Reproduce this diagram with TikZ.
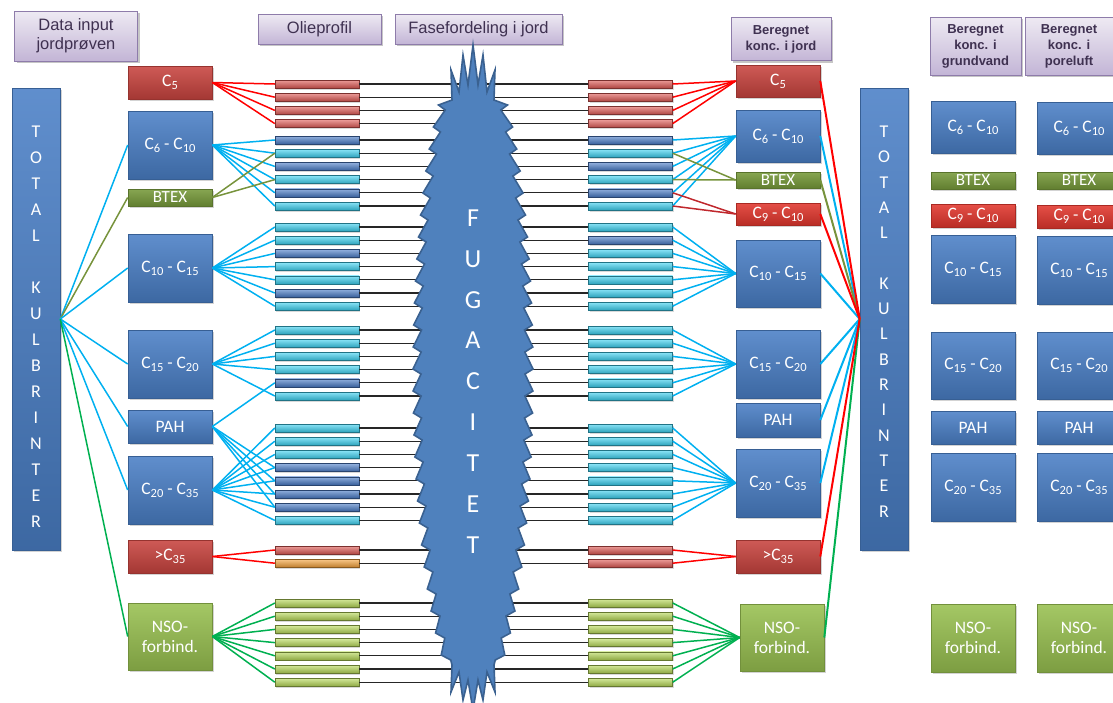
\documentclass[tikz,border=0pt]{standalone}
\usepackage{fontspec}
\newfontfamily\calf{Carlito}
\newfontfamily\arialf{Liberation Sans}
\usetikzlibrary{shadows}

\definecolor{hdrtop}{HTML}{EEEAF3}
\definecolor{hdrbot}{HTML}{C3B5D6}
\definecolor{hdredge}{HTML}{8E7CAA}
\definecolor{hdrtext}{HTML}{3F3151}
\definecolor{bxblue}{HTML}{4A7FC6}
\definecolor{bxred}{HTML}{C8443F}
\definecolor{bxbright}{HTML}{E2372E}
\definecolor{bxolive}{HTML}{779A3A}
\definecolor{bxlime}{HTML}{98C050}
\definecolor{brred}{HTML}{E05A55}
\definecolor{brblue}{HTML}{4A7CC8}
\definecolor{brcyan}{HTML}{3CD2F2}
\definecolor{brlime}{HTML}{B8DA58}
\definecolor{brorange}{HTML}{F5A23A}
\definecolor{fugfill}{HTML}{4F81BD}
\definecolor{fugedge}{HTML}{3A6190}
\definecolor{lnblue}{HTML}{00B0F0}
\definecolor{lnred}{HTML}{FF0000}
\definecolor{lnolive}{HTML}{77933C}
\definecolor{lngreen}{HTML}{00B050}
\definecolor{lndred}{HTML}{C0282D}

% lowered index figures for carbon numbers
\newcommand\csub[1]{\raisebox{-3.2pt}{\fontsize{12.5}{12.5}\selectfont #1}}

\tikzset{
  hdr/.style={rectangle, inner sep=2pt, align=center, text=hdrtext,
    draw=hdredge, line width=0.8pt, top color=hdrtop, bottom color=hdrbot,
    drop shadow={opacity=0.45, shadow xshift=2pt, shadow yshift=-2pt}},
  hdrplain/.style={hdr, font=\arialf\fontsize{16.5}{19}\selectfont},
  hdrbold/.style={hdr, font=\arialf\bfseries\fontsize{13}{16}\selectfont},
  cbox/.style={rectangle, inner sep=0pt, minimum width=84pt, align=center,
    text=white, font=\calf\fontsize{17.5}{20}\selectfont,
    draw=#1!75!black, line width=0.6pt, top color=#1!88!white,
    bottom color=#1!82!black,
    drop shadow={opacity=0.35, shadow xshift=1.5pt, shadow yshift=-1.5pt}},
  oilbar/.style={rectangle, inner sep=0pt, minimum width=84pt,
    minimum height=8pt, draw=#1!55!black, line width=0.4pt,
    top color=#1!60!white, middle color=#1, bottom color=#1!78!black,
    drop shadow={opacity=0.3, shadow xshift=1pt, shadow yshift=-1.5pt}},
  link/.style={line width=1.5pt, draw=#1},
  hublink/.style={line width=2pt, draw=#1},
  blk/.style={line width=1.3pt, draw=black!85},
  lettr/.style={align=center, text=white, inner sep=0pt},
  btexfont/.style={font=\calf\fontsize{17}{18}\selectfont},
}

% a stack of oil-fraction bars: name prefix, first centre y, centre x, colours
\newcommand\oilgroup[4]{%
  \foreach \c [count=\k] in {#4} {%
    \node[oilbar=\c] (#1-\k) at (#3, {#2+13.2*(\k-1)}) {};}}

\begin{document}
\begin{tikzpicture}[x=1pt, y=-1pt,
  declare function={fw(\t)=60*sqrt(max(0,1-((\t-375)/330)^2));}]
\useasboundingbox (0,0) rectangle (1113,702);
\clip (0,0) rectangle (1113,702);

% headers
\node[hdrplain, minimum width=123pt, minimum height=50pt] (hData) at (76,36) {Data input\\jordprøven};
\node[hdrplain, minimum width=123pt, minimum height=30pt] (hOlie) at (319.5,29) {Olieprofil};
\node[hdrplain, minimum width=167pt, minimum height=30pt] (hFase) at (478.5,29) {Fasefordeling i jord};
\node[hdrbold, minimum width=100pt, minimum height=43pt] (hJord) at (781,39) {Beregnet\\konc. i jord};
\node[hdrbold, minimum width=91pt, minimum height=58pt] (hGrund) at (975.5,46) {Beregnet\\konc. i\\grundvand};
\node[hdrbold, minimum width=88pt, minimum height=58pt] (hPore) at (1069,46) {Beregnet\\konc. i\\poreluft};

% total hydrocarbon columns
\node[cbox=bxblue, minimum width=48pt, minimum height=462pt] (LT) at (36,319) {};
\node[cbox=bxblue, minimum width=48pt, minimum height=462pt] (RT) at (884,319) {};
\node[lettr, font=\calf\fontsize{18}{26}\selectfont] (ltxt) at (36,326.5)
  {T\\O\\T\\A\\L\\\mbox{}\\K\\U\\L\\B\\R\\I\\N\\T\\E\\R};
\node[lettr, font=\calf\fontsize{18}{25.3}\selectfont] (rtxt) at (884,321.5)
  {T\\O\\T\\A\\L\\\mbox{}\\K\\U\\L\\B\\R\\I\\N\\T\\E\\R};

% input fractions
\node[cbox=bxred,   minimum height=33pt] (L5)    at (170,82.5) {C\csub{5}};
\node[cbox=bxblue,  minimum height=68pt] (L610)  at (170,145)  {C\csub{6} - C\csub{10}};
\node[cbox=bxolive, minimum height=17pt, btexfont] (LBTEX) at (170,197.5) {BTEX};
\node[cbox=bxblue,  minimum height=68pt] (L1015) at (170,268)  {C\csub{10} - C\csub{15}};
\node[cbox=bxblue,  minimum height=68pt] (L1520) at (170,364)  {C\csub{15} - C\csub{20}};
\node[cbox=bxblue,  minimum height=33pt] (LPAH)  at (170,426.5) {PAH};
\node[cbox=bxblue,  minimum height=68pt] (L2035) at (170,490)  {C\csub{20} - C\csub{35}};
\node[cbox=bxred,   minimum height=33pt] (L35)   at (170,556.5) {>C\csub{35}};
\node[cbox=bxlime,  minimum height=67pt] (LNSO)  at (170,636.5) {NSO-\\forbind.};

% soil concentrations
\node[cbox=bxred,    minimum height=32pt] (R5)    at (778,81)  {C\csub{5}};
\node[cbox=bxblue,   minimum height=52pt] (R610)  at (778,136) {C\csub{6} - C\csub{10}};
\node[cbox=bxolive,  minimum height=16pt, btexfont] (RBTEX) at (778,180) {BTEX};
\node[cbox=bxbright, minimum height=22pt] (R910)  at (778,214) {C\csub{9} - C\csub{10}};
\node[cbox=bxblue,   minimum height=67pt] (R1015) at (778,273.5) {C\csub{10} - C\csub{15}};
\node[cbox=bxblue,   minimum height=68pt] (R1520) at (778,364) {C\csub{15} - C\csub{20}};
\node[cbox=bxblue,   minimum height=34pt] (RPAH)  at (778,420) {PAH};
\node[cbox=bxblue,   minimum height=68pt] (R2035) at (778,483) {C\csub{20} - C\csub{35}};
\node[cbox=bxred,    minimum height=33pt] (R35)   at (778,556.5) {>C\csub{35}};
\node[cbox=bxlime,   minimum height=67pt] (RNSO)  at (782,637.5) {NSO-\\forbind.};

% groundwater and pore air columns
\foreach \p/\xc/\dy in {g/973/0, p/1079/1} {
  \node[cbox=bxblue,   minimum height=52pt] (\p610)  at (\xc,127+\dy) {C\csub{6} - C\csub{10}};
  \node[cbox=bxolive,  minimum height=17pt, btexfont] (\p BTEX) at (\xc,180.5) {BTEX};
  \node[cbox=bxbright, minimum height=23pt] (\p910)  at (\xc,215.5+\dy) {C\csub{9} - C\csub{10}};
  \node[cbox=bxblue,   minimum height=68pt] (\p1015) at (\xc,269+\dy) {C\csub{10} - C\csub{15}};
  \node[cbox=bxblue,   minimum height=67pt] (\p1520) at (\xc,365.5) {C\csub{15} - C\csub{20}};
  \node[cbox=bxblue,   minimum height=33pt] (\p PAH)  at (\xc,428) {PAH};
  \node[cbox=bxblue,   minimum height=68pt] (\p2035) at (\xc,487) {C\csub{20} - C\csub{35}};
  \node[cbox=bxlime,   minimum height=68pt] (\p NSO)  at (\xc,638) {NSO-\\forbind.};
}

% oil profile bars
\oilgroup{la}{84}{317}{brred,brred,brred,brred}
\oilgroup{lb}{140}{317}{brblue,brcyan,brblue,brcyan,brblue,brcyan}
\oilgroup{lc}{227}{317}{brcyan,brcyan,brblue,brcyan,brcyan,brblue,brcyan}
\oilgroup{ld}{330}{317}{brcyan,brcyan,brcyan,brcyan,brblue,brcyan}
\oilgroup{le}{428}{317}{brcyan,brcyan,brcyan,brblue,brblue,brblue,brblue,brcyan}
\oilgroup{lf}{550}{317}{brred,brorange}
\oilgroup{lg}{603}{317}{brlime,brlime,brlime,brlime,brlime,brlime,brlime}
% phase distribution bars
\oilgroup{ra}{84}{630.5}{brred,brred,brred,brred}
\oilgroup{rb}{140}{630.5}{brblue,brcyan,brblue,brcyan,brblue,brcyan}
\oilgroup{rc}{227}{630.5}{brcyan,brblue,brcyan,brcyan,brcyan,brcyan,brcyan}
\oilgroup{rd}{330}{630.5}{brcyan,brcyan,brcyan,brcyan,brcyan,brcyan}
\oilgroup{re}{428}{630.5}{brcyan,brcyan,brcyan,brcyan,brcyan,brcyan,brcyan,brcyan}
\oilgroup{rf}{550}{630.5}{brred,brred}
\oilgroup{rg}{603}{630.5}{brlime,brlime,brlime,brlime,brlime,brlime,brlime}

% black lines through the fugacity model
\foreach \g/\n in {a/4,b/6,c/7,d/6,e/8,f/2,g/7}
  \foreach \k in {1,...,\n}
    \draw[blk] (l\g-\k.east) -- (r\g-\k.west);

% fugacity shape: spiked ends, saw-toothed flanks
\filldraw[fill=fugfill, draw=fugedge, line width=1.6pt, line join=miter]
  (473,45) -- (468,85) -- (463,55) -- (459,92) -- (451,70) -- (452,100)
  \foreach \k in {0,...,25} {
    -- ({473-fw(105+22*\k)}, {105+22*\k})
    -- ({473-fw(110+22*\k)+8}, {110+22*\k}) }
  -- (452,665) -- (451,692) -- (459,672) -- (463,700) -- (468,680) -- (473,710)
  -- (478,680) -- (483,700) -- (487,672) -- (495,692) -- (494,665)
  \foreach \k in {25,...,0} {
    -- ({473+fw(110+22*\k)-8}, {110+22*\k})
    -- ({473+fw(105+22*\k)}, {105+22*\k}) }
  -- (494,100) -- (495,70) -- (487,92) -- (483,55) -- (478,85) -- cycle;
\node[lettr, font=\calf\fontsize{26}{40.9}\selectfont] (fugtxt) at (473,381.5)
  {F\\U\\G\\A\\C\\I\\T\\E\\T};

% total hydrocarbons to input fractions
\draw[link=lnblue]  (LT.east) -- (L610.west);
\draw[link=lnolive] (LT.east) -- (LBTEX.west);
\draw[link=lnblue]  (LT.east) -- (L1015.west);
\draw[link=lnblue]  (LT.east) -- (L1520.west);
\draw[link=lnblue]  (LT.east) -- (LPAH.west);
\draw[link=lnblue]  (LT.east) -- (L2035.west);
\draw[link=lngreen] (LT.east) -- (LNSO.west);

% input fractions to oil profile
\foreach \k in {1,...,4} \draw[link=lnred] (L5.east) -- (la-\k.west);
\foreach \k in {1,...,6} \draw[link=lnblue] (L610.east) -- (lb-\k.west);
\foreach \k in {2,4} \draw[link=lnolive] (LBTEX.east) -- (lb-\k.west);
\foreach \k in {1,...,7} \draw[link=lnblue] (L1015.east) -- (lc-\k.west);
\foreach \k in {1,2,3,4,6} \draw[link=lnblue] (L1520.east) -- (ld-\k.west);
\draw[link=lnblue] (LPAH.east) -- (ld-5.west);
\foreach \k in {4,...,7} \draw[link=lnblue] (LPAH.east) -- (le-\k.west);
\foreach \k in {1,...,8} \draw[link=lnblue] (L2035.east) -- (le-\k.west);
\foreach \k in {1,2} \draw[link=lnred] (L35.east) -- (lf-\k.west);
\foreach \k in {1,...,7} \draw[link=lngreen] (LNSO.east) -- (lg-\k.west);

% phase distribution to soil concentrations
\foreach \k in {1,...,4} \draw[link=lnred] (ra-\k.east) -- (R5.west);
\foreach \k in {1,...,6} \draw[link=lnblue] (rb-\k.east) -- (R610.west);
\foreach \k in {2,4} \draw[link=lnolive] (rb-\k.east) -- (RBTEX.west);
\foreach \k in {5,6} \draw[link=lndred] (rb-\k.east) -- (R910.west);
\foreach \k in {1,...,7} \draw[link=lnblue] (rc-\k.east) -- (R1015.west);
\foreach \k in {1,...,6} \draw[link=lnblue] (rd-\k.east) -- (R1520.west);
\foreach \k in {1,...,8} \draw[link=lnblue] (re-\k.east) -- (R2035.west);
\foreach \k in {1,2} \draw[link=lnred] (rf-\k.east) -- (R35.west);
\foreach \k in {1,...,7} \draw[link=lngreen] (rg-\k.east) -- (RNSO.west);

% soil concentrations to total hydrocarbons
\draw[hublink=lnblue]  (R610.east)  -- (RT.west);
\draw[hublink=lnblue]  (R1015.east) -- (RT.west);
\draw[hublink=lnblue]  (R1520.east) -- (RT.west);
\draw[hublink=lnblue]  (RPAH.east)  -- (RT.west);
\draw[hublink=lnblue]  (R2035.east) -- (RT.west);
\draw[hublink=lnolive] (RBTEX.east) -- (RT.west);
\draw[hublink=lngreen] (RNSO.east)  -- (RT.west);
\draw[hublink=lnred]   (R5.east)    -- (RT.west);
\draw[hublink=lnred]   (R910.east)  -- (RT.west);
\draw[hublink=lnred]   (R35.east)   -- (RT.west);
\end{tikzpicture}
\end{document}
